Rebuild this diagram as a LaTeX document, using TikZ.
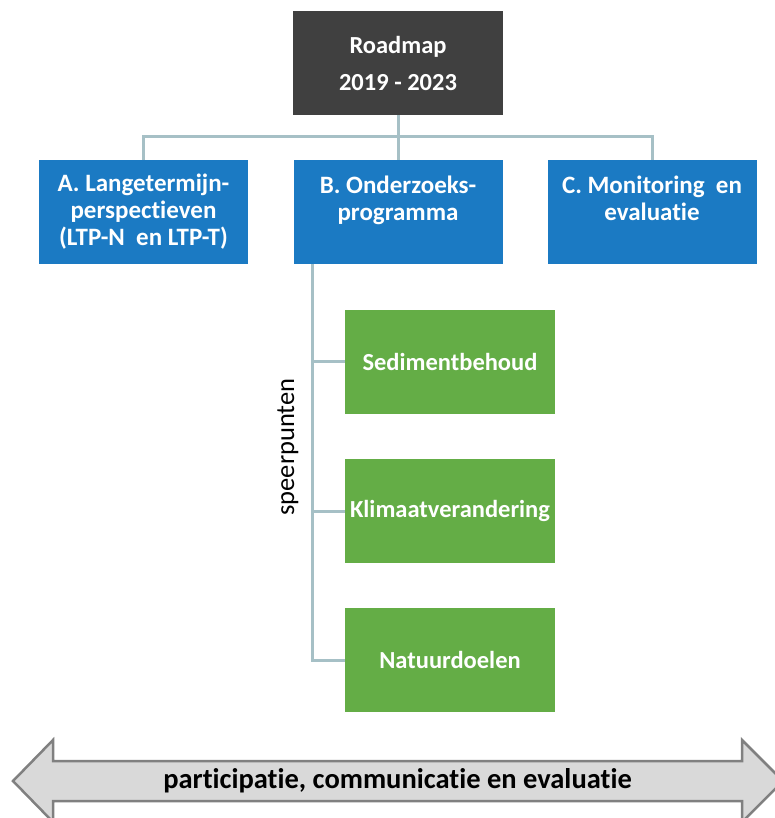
\documentclass[tikz,border=0pt]{standalone}
\usepackage{fontspec}
\setmainfont{Carlito}[Ligatures=NoCommon]
\definecolor{rootgray}{HTML}{404040}
\definecolor{boxblue}{HTML}{1B7AC3}
\definecolor{boxgreen}{HTML}{64AD46}
\definecolor{connc}{HTML}{A6C0C6}
\definecolor{arrowfill}{HTML}{D9D9D9}
\definecolor{arrowline}{HTML}{808080}
\begin{document}
\begin{tikzpicture}[x=1pt,y=1pt,
  box/.style={rectangle, inner sep=0pt, text=white, align=center,
    font=\bfseries\fontsize{25}{27}\selectfont},
  rootbox/.style={box, fill=rootgray, minimum width=210, minimum height=104,
    font=\bfseries\fontsize{24.5}{37}\selectfont},
  bluebox/.style={box, fill=boxblue, minimum width=209, minimum height=104},
  greenbox/.style={box, fill=boxgreen, minimum width=210, minimum height=104,
    font=\bfseries\fontsize{24.5}{27}\selectfont},
  conn/.style={draw=connc, line width=3pt},
  bigarrow/.style={draw=arrowline, fill=arrowfill, line width=2.5pt, line join=miter}
]
\useasboundingbox (0,0) rectangle (775,-818);
\clip (0,0) rectangle (775,-818);

\node[rootbox] (root) at (398,-63) {Roadmap\\2019 - 2023};
\node[bluebox] (A) at (143.5,-212) {A. Langetermijn-\\perspectieven\\(LTP-N\ \ en LTP-T)};
\node[bluebox] (B) at (398,-212) {B. Onderzoeks-\\programma\\\mbox{}};
\node[bluebox] (C) at (652,-212) {C. Monitoring\ \ en\\evaluatie\\\mbox{}};

\node[greenbox] (S) at (450,-361.5) {Sedimentbehoud};
\node[greenbox] (K) at (450,-511) {Klimaatverandering};
\node[greenbox] (N) at (450,-660) {Natuurdoelen};

\node[rotate=90, font=\fontsize{26.5}{29}\selectfont] (sp) at (288,-447) {speerpunten};

% connectors
\draw[conn] (root.south) -- (B.north);
\draw[conn] (A.north) -- ++(0,23) -| (C.north);
\coordinate (spine) at ([xshift=19pt]B.south west);
\draw[conn] (spine) |- (N.west);
\draw[conn] (S.west) -- (S.west -| spine);
\draw[conn] (K.west) -- (K.west -| spine);

% bottom double arrow
\coordinate (ltip) at (13,-781);
\coordinate (rtip) at (783,-781);
\draw[bigarrow] (ltip) -- (53,-740) -- (53,-761) -- (742,-761) -- (742,-740)
  -- (rtip) -- (742,-822) -- (742,-801) -- (53,-801) -- (53,-822) -- cycle;
\node[font=\bfseries\fontsize{28.5}{31}\selectfont] (pce) at (397.5,-781)
  {participatie, communicatie en evaluatie};
\end{tikzpicture}
\end{document}
